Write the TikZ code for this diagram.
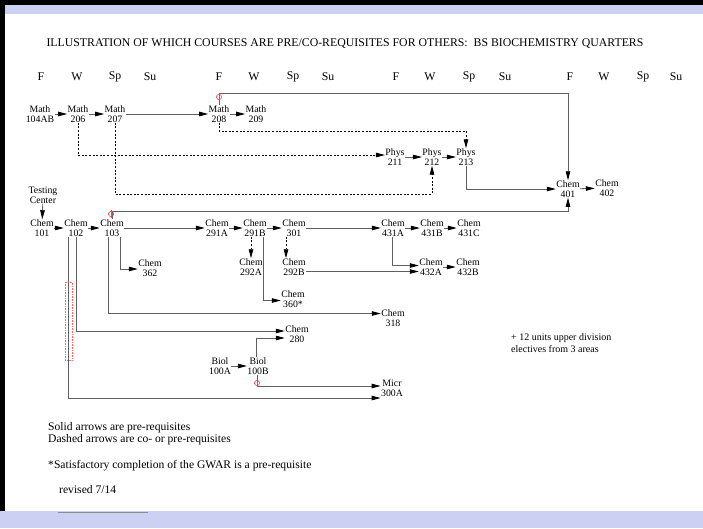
\documentclass[tikz,border=0pt]{standalone}
\usepackage{fontspec}
\setmainfont{Liberation Serif}
\usetikzlibrary{arrows.meta}
\definecolor{band}{RGB}{204,208,242}
\definecolor{lgray}{RGB}{95,95,95}
\begin{document}
\begin{tikzpicture}[x=1pt,y=-1pt,
  course/.style={align=center,font=\fontsize{9.8}{9.6}\selectfont,inner sep=0.3pt},
  season/.style={font=\fontsize{11.8}{13}\selectfont,inner sep=0pt},
  plain/.style={font=\fontsize{11.6}{11.5}\selectfont,inner sep=0pt,anchor=west,align=left},
  pre/.style={draw=lgray,line width=0.8pt,-{Triangle[length=9pt,width=4.5pt,color=black]}},
  co/.style={draw=black,line width=0.9pt,dash pattern=on 2pt off 1.6pt,-{Triangle[length=9pt,width=4.5pt,color=black]}},
  marker/.style={draw=red!75,line width=0.6pt}]
\useasboundingbox (0,0) rectangle (703,528);
% page frame
\fill[white] (0,0) rectangle (703,528);
\fill[band] (0,5) rectangle (703,14);
\fill[band] (0,511) rectangle (703,528);
\fill[black] (0,0) rectangle (703,5);
\fill[black] (0,0) rectangle (5,511);
\draw[black!45,line width=1pt] (58,512) -- (148,512);

% title and seasons
\node[season] (title) at (345,44) {ILLUSTRATION OF WHICH COURSES ARE PRE/CO-REQUISITES FOR OTHERS:\ \ BS BIOCHEMISTRY QUARTERS};
\foreach \x/\t [count=\i] in {41/F,77/W,115/Sp,150/Su,219/F,254/W,293/Sp,328/Su,396/F,430/W,469/Sp,505/Su,570/F,604/W,643/Sp,676/Su}
  \node[season] (s\i) at (\x,77) {\t};

% courses
\node[course] (m104) at (40,114) {Math\\104AB};
\node[course] (m206) at (78,114) {Math\\206};
\node[course] (m207) at (115,114) {Math\\207};
\node[course] (m208) at (219,114) {Math\\208};
\node[course] (m209) at (256,114) {Math\\209};
\node[course] (p211) at (395,157) {Phys\\211};
\node[course] (p212) at (432,157) {Phys\\212};
\node[course] (p213) at (466,157) {Phys\\213};
\node[course] (c401) at (568,189) {Chem\\401};
\node[course] (c402) at (607,188) {Chem\\402};
\node[course] (test) at (43,195) {Testing\\Center};
\node[course] (c101) at (42,228) {Chem\\101};
\node[course] (c102) at (76,228) {Chem\\102};
\node[course] (c103) at (112,228) {Chem\\103};
\node[course] (c291a) at (217,228) {Chem\\291A};
\node[course] (c291b) at (255,228) {Chem\\291B};
\node[course] (c301) at (294,228) {Chem\\301};
\node[course] (c431a) at (393,228) {Chem\\431A};
\node[course] (c431b) at (432,228) {Chem\\431B};
\node[course] (c431c) at (469,228) {Chem\\431C};
\node[course] (c362) at (150,268) {Chem\\362};
\node[course] (c292a) at (251,267) {Chem\\292A};
\node[course] (c292b) at (294,267) {Chem\\292B};
\node[course] (c432a) at (431,267) {Chem\\432A};
\node[course] (c432b) at (468,267) {Chem\\432B};
\node[course] (c360) at (293,299) {Chem\\360*};
\node[course] (c318) at (393,318) {Chem\\318};
\node[course] (c280) at (297,334) {Chem\\280};
\node[course] (b100a) at (220,366) {Biol\\100A};
\node[course] (b100b) at (258,366) {Biol\\100B};
\node[course] (micr) at (392,388) {Micr\\300A};

% helper corners
\coordinate (t1) at (568,93);
\coordinate (t2) at (568,211);
\coordinate (d1) at (466,131);
\coordinate (d2) at (432,194);

% solid pre-requisite arrows
\draw[pre] (m104) -- (m206);
\draw[pre] (m206) -- (m207);
\draw[pre] (m207) -- (m208);
\draw[pre] (m208) -- (m209);
\draw[pre] (m208.north) |- (t1) -- (c401.north);
\draw[pre] (p211) -- (p212);
\draw[pre] (p212) -- (p213);
\draw[pre] (p213.south) |- (c401.west);
\draw[pre] (c401) -- (c402);
\draw[pre] (c103.north) |- (t2) -- (c401.south);
\draw[pre] (test) -- (c101);
\draw[pre] (c101) -- (c102);
\draw[pre] (c102) -- (c103);
\draw[pre] (c103) -- (c291a);
\draw[pre] (c291a) -- (c291b);
\draw[pre] (c291b) -- (c301);
\draw[pre] (c301) -- (c431a);
\draw[pre] (c431a) -- (c431b);
\draw[pre] (c431b) -- (c431c);
\draw[pre] ([xshift=8pt]c103.south) |- ([yshift=-1pt]c362.west);
\draw[pre] ([xshift=8pt]c291b.south) |- ([yshift=-1.5pt]c360.west);
\draw[pre] ([yshift=-4.5pt]c292b.east) -- ([yshift=-4.5pt]c432a.west);
\draw[pre] ([xshift=-1pt]c431a.south) |- ([yshift=1.5pt]c432a.west);
\draw[pre] (c432a) -- (c432b);
\draw[pre] ([xshift=-4pt]c103.south) |- ([yshift=4.5pt]c318.west);
\draw[pre] (c102.south) |- ([yshift=3pt]c280.west);
\draw[pre] ([xshift=-8pt]c102.south) |- ([yshift=-10pt]micr.west);
\draw[pre] (b100a) -- (b100b);
\draw[pre] ([xshift=-1.5pt]b100b.north) |- ([yshift=-4pt]c280.west);
\draw[pre] ([xshift=-1pt]b100b.south) |- ([yshift=2pt]micr.west);

% dashed co-/pre-requisite arrows
\draw[co] (m208.south) |- (d1) -- (p213.north);
\draw[co] (m206.south) |- ([yshift=2pt]p211.west);
\draw[co] (m207.south) |- (d2) -- (p212.south);
\draw[co] ([xshift=-4pt]c291b.south) -- (c292a.north);
\draw[co] ([xshift=-8pt]c301.south) -- ([xshift=-8pt]c292b.north);

% red markers
\draw[marker] (219,97) circle (2.6pt);
\draw[marker] (219,93) -- (219,101);
\draw[marker] (111,214) circle (2.6pt);
\draw[marker] (111,210) -- (111,218);
\draw[marker] (257,383) circle (2.6pt);
\draw[marker] (257,379) -- (257,387);
\draw[draw=red!60,line width=0.6pt,densely dotted] (65,282) rectangle (72,360);

% notes
\node[plain,font=\fontsize{10}{12}\selectfont] (units) at (511,343) {+ 12 units upper division\\electives from 3 areas};
\node[plain] (leg1) at (48,428) {Solid arrows are pre-requisites};
\node[plain] (leg2) at (48,439.5) {Dashed arrows are co- or pre-requisites};
\node[plain] (leg3) at (48,466) {*Satisfactory completion of the GWAR is a pre-requisite};
\node[plain] (rev) at (59,490) {revised 7/14};
\end{tikzpicture}
\end{document}
